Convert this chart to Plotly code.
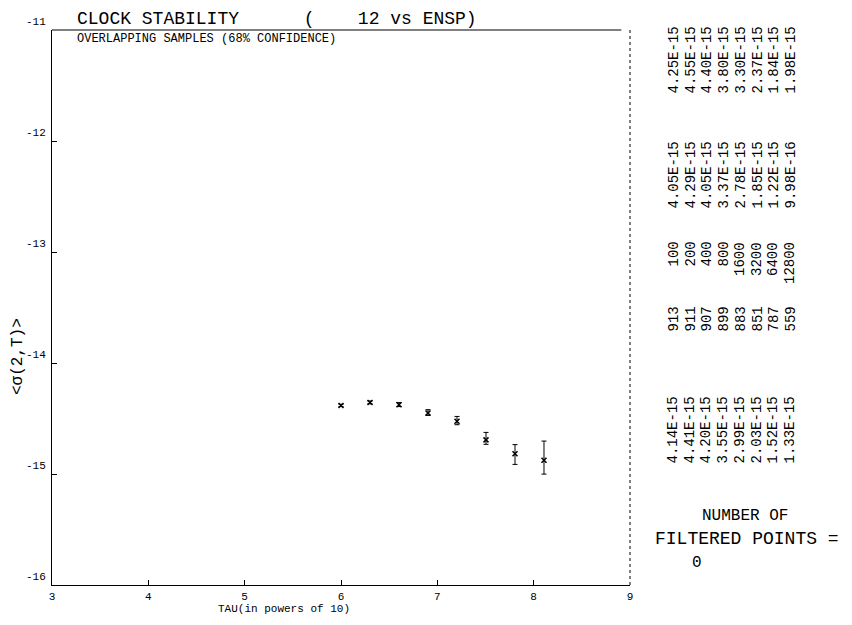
import plotly.graph_objects as go

# ---- data ----
tau = [100, 200, 400, 800, 1600, 3200, 6400, 12800]          # averaging factor
tau_unit = 1e4                                               # base interval (s)
n_samples = [913, 911, 907, 899, 883, 851, 787, 559]
sigma = [4.14e-15, 4.41e-15, 4.20e-15, 3.55e-15, 2.99e-15, 2.03e-15, 1.52e-15, 1.33e-15]
lower = [4.05e-15, 4.29e-15, 4.05e-15, 3.37e-15, 2.78e-15, 1.85e-15, 1.22e-15, 9.98e-16]
upper = [4.25e-15, 4.55e-15, 4.40e-15, 3.80e-15, 3.30e-15, 2.37e-15, 1.84e-15, 1.98e-15]
x_ticks = [1e3, 1e4, 1e5, 1e6, 1e7, 1e8, 1e9]
x_ticklabels = ["3", "4", "5", "6", "7", "8", "9"]
y_ticks = [1e-16, 1e-15, 1e-14, 1e-13, 1e-12, 1e-11]
y_ticklabels = ["-16", "-15", "-14", "-13", "-12", "-11"]
filtered_points = 0

FONT = "Liberation Mono, DejaVu Sans Mono, monospace"

# page offset (default body margin) and plot-area geometry in screen pixels
OFF = 8
L, R, T, B = 52, 630, 30, 585
W, H = R - L, B - T


def px_x(p):
    return (p - L) / W


def px_y(p):
    return (B - p) / H


tau_s = [t * tau_unit for t in tau]
err_plus = [u - s for u, s in zip(upper, sigma)]
err_minus = [s - l for s, l in zip(sigma, lower)]

fig = go.Figure()
fig.add_trace(go.Scatter(
    x=tau_s, y=sigma, mode="markers",
    marker=dict(symbol="x-thin", size=5, color="black", line=dict(width=1.5, color="black")),
    error_y=dict(type="data", symmetric=False, array=err_plus, arrayminus=err_minus,
                 color="black", thickness=1, width=2.5),
    showlegend=False,
))

fig.update_layout(
    width=852, height=625,
    margin=dict(l=L - OFF, r=852 - (R - OFF), t=T - OFF, b=625 - (B - OFF)),
    paper_bgcolor="white", plot_bgcolor="white",
    font=dict(family=FONT, color="black", size=11),
    xaxis=dict(type="log", range=[3, 9], tickvals=x_ticks, ticktext=x_ticklabels,
               showgrid=False, zeroline=False, showline=True, linecolor="black", linewidth=1,
               ticks="inside", ticklen=5, tickcolor="black", tickfont=dict(size=11, family=FONT),
               automargin=False, ticklabelstandoff=1),
    yaxis=dict(type="log", range=[-16, -11], tickvals=y_ticks, ticktext=y_ticklabels,
               showgrid=False, zeroline=False, showline=True, linecolor="black", linewidth=1,
               ticks="inside", ticklen=5, tickcolor="black", tickfont=dict(size=11, family=FONT),
               ticklabelshift=-9, ticklabelstandoff=3, automargin=False),
)

# top and right borders
fig.add_shape(type="line", xref="paper", yref="paper", x0=0, x1=0.985, y0=1, y1=1,
              line=dict(color="black", width=1.2))
fig.add_shape(type="line", xref="paper", yref="paper", x0=1, x1=1, y0=0, y1=1,
              line=dict(color="black", width=1, dash="dot"))

ann = []
# title
ann.append(dict(text="CLOCK STABILITY      (    12 vs ENSP)", x=px_x(75), y=px_y(19),
                xanchor="left", yanchor="middle", font=dict(size=18, family=FONT)))
ann.append(dict(text="OVERLAPPING SAMPLES (68% CONFIDENCE)", x=px_x(75), y=px_y(39),
                xanchor="left", yanchor="middle", font=dict(size=12, family=FONT)))
# axis titles
ann.append(dict(text="TAU(in powers of 10)", x=px_x(284), y=px_y(609),
                xanchor="center", yanchor="middle", font=dict(size=11, family=FONT)))
ann.append(dict(text="<σ(2,T)>", x=px_x(18), y=px_y(357), textangle=-90,
                xanchor="center", yanchor="middle", font=dict(size=16, family=FONT)))

# rotated table columns
col_x = [673, 690, 706, 723, 740, 757, 773, 790]
groups = [
    ([f"{v:.2E}" for v in upper], 25),
    ([f"{v:.2E}" for v in lower], 140),
    ([str(v) for v in tau], 240),
    ([str(v) for v in n_samples], 305),
    ([f"{v:.2E}" for v in sigma], 395),
]
for texts, top in groups:
    for cx, t in zip(col_x, texts):
        ann.append(dict(text=t, x=px_x(cx), y=px_y(top), textangle=-90,
                        xanchor="center", yanchor="top", font=dict(size=14, family=FONT)))

ann.append(dict(text="NUMBER OF", x=px_x(745), y=px_y(516), xanchor="center", yanchor="middle",
                font=dict(size=16, family=FONT)))
ann.append(dict(text="FILTERED POINTS =", x=px_x(747), y=px_y(539), xanchor="center", yanchor="middle",
                font=dict(size=18, family=FONT)))
ann.append(dict(text=str(filtered_points), x=px_x(697), y=px_y(563), xanchor="center", yanchor="middle",
                font=dict(size=16, family=FONT)))

for a in ann:
    a.update(xref="paper", yref="paper", showarrow=False)
fig.update_layout(annotations=ann)

fig.write_html("out.html")
